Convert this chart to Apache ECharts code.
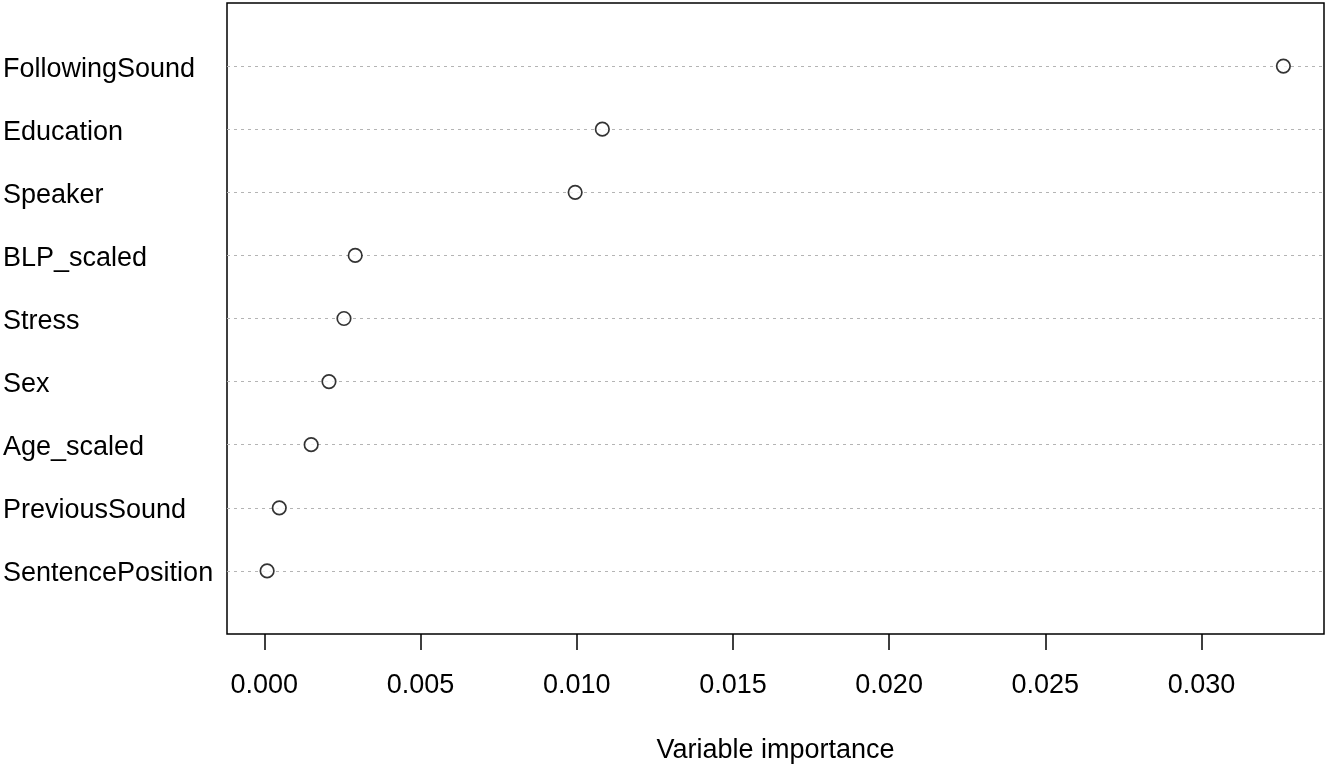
<!DOCTYPE html>
<html>
<head>
    <meta charset="utf-8">
    <title>Variable importance</title>
    <script src="https://cdn.jsdelivr.net/npm/echarts@6/dist/echarts.min.js"></script>
    <style>
        html, body { margin: 0; padding: 0; background: #fff; }
        #chart { width: 1328px; height: 766px; }
    </style>
</head>
<body>
<div id="chart"></div>
<script type="text/javascript">
    // variables, listed top to bottom as in the plot
    var variables = ['FollowingSound', 'Education', 'Speaker', 'BLP_scaled', 'Stress',
        'Sex', 'Age_scaled', 'PreviousSound', 'SentencePosition'];
    var importance = [0.03262, 0.01082, 0.00995, 0.00291, 0.00255,
        0.00207, 0.00150, 0.00048, 0.00009];
    var xTicks = [0, 0.005, 0.010, 0.015, 0.020, 0.025, 0.030];

    // row position: top row sits at y = 9, bottom at y = 1
    var rowPos = variables.map(function (v, i) { return variables.length - i; });
    var points = importance.map(function (v, i) { return [v, rowPos[i]]; });

    var myChart = echarts.init(document.getElementById('chart'));
    var fontFamily = '"Liberation Sans", Arial, sans-serif';

    myChart.setOption({
        animation: false,
        backgroundColor: '#fff',
        grid: {
            left: 227, right: 4, top: 3, bottom: 132,
            outerBoundsMode: 'none',
            show: true, borderColor: '#000', borderWidth: 1.5, backgroundColor: 'transparent'
        },
        xAxis: {
            type: 'value',
            min: -0.001194,
            max: 0.03392,
            name: 'Variable importance',
            nameLocation: 'middle',
            nameGap: 103,
            nameTextStyle: { color: '#000', fontSize: 27, fontFamily: fontFamily },
            axisLine: { show: false },
            splitLine: { show: false },
            axisTick: {
                show: true, length: 16, customValues: xTicks,
                lineStyle: { color: '#000', width: 1.5 }
            },
            axisLabel: {
                customValues: xTicks,
                margin: 38,
                color: '#000', fontSize: 27, fontFamily: fontFamily,
                formatter: function (v) { return v.toFixed(3); }
            }
        },
        yAxis: {
            type: 'value',
            min: 0,
            max: 10,
            axisLine: { show: false },
            axisTick: { show: false },
            splitLine: { show: false },
            axisLabel: {
                customValues: rowPos,
                align: 'left',
                margin: 224,
                color: '#000', fontSize: 27, fontFamily: fontFamily,
                formatter: function (v) {
                    return '{n|' + variables[variables.length - Math.round(v)] + '}';
                },
                rich: {
                    n: {
                        color: '#000', fontSize: 27, fontFamily: fontFamily,
                        lineHeight: 30, padding: [6, 0, 0, 0]
                    }
                }
            }
        },
        series: [{
            type: 'scatter',
            data: points,
            symbol: 'circle',
            symbolSize: 13.5,
            itemStyle: { color: '#fff', borderColor: '#000', borderWidth: 1.7 },
            z: 3,
            markLine: {
                silent: true,
                symbol: 'none',
                label: { show: false },
                lineStyle: { color: '#b4b4b4', width: 1.2, type: [3, 4] },
                data: rowPos.map(function (y) { return { yAxis: y }; }),
                z: 1
            }
        }]
    });
</script>
</body>
</html>
